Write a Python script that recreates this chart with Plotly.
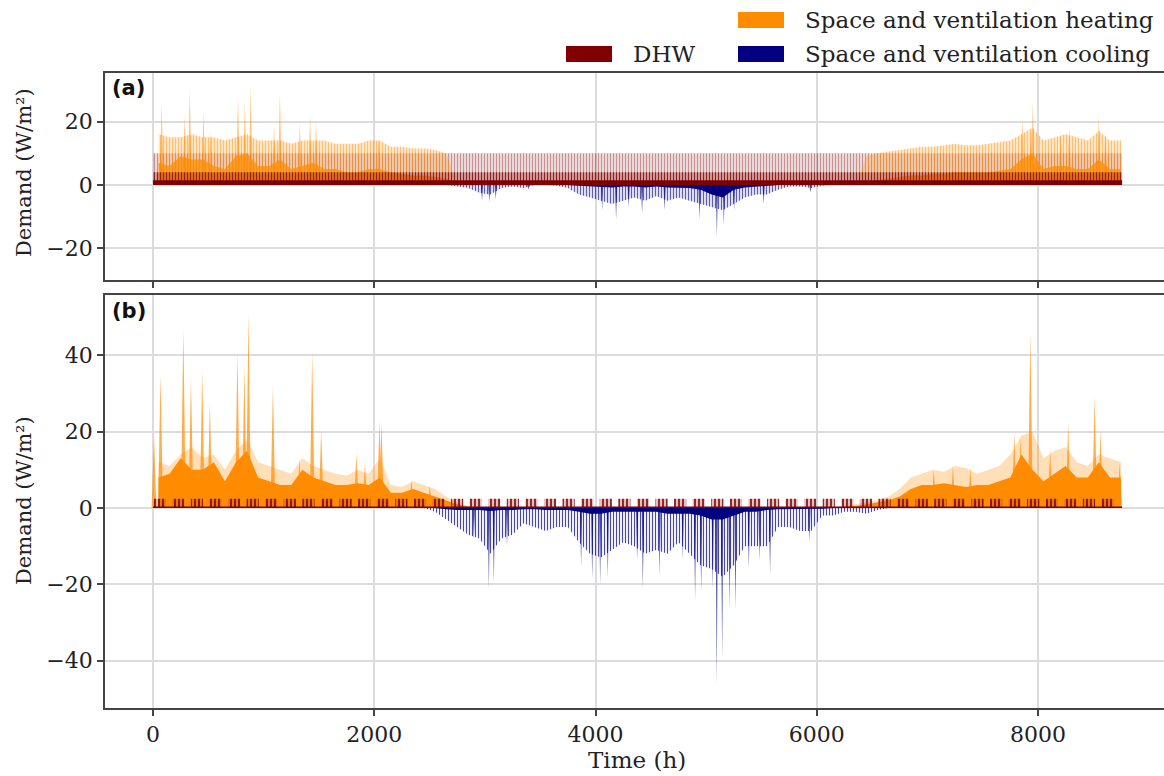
import numpy as np
import plotly.graph_objects as go

# hourly year, summarised in 100 h bins
bin_hours = np.arange(50, 8760, 100)          # 88 bin centres
year_span = [0, 8760]

# ---- panel (a) ----
heat_a_top = ([16, 15, 15, 16, 15, 15, 14, 15, 16, 14, 14, 14, 13, 14, 14, 14, 13, 13, 13, 14,
               14, 12, 12, 11.5, 11.5, 11, 10] + [0] * 37 +
              [9, 10, 10.5, 11, 11.5, 12, 12, 12.5, 13, 12.5, 12.5, 13, 13.5, 14, 16, 18, 14, 15,
               16, 15, 14, 17, 14, 14])
heat_a_mid = ([7, 6, 9, 8, 8, 6, 5, 9, 10, 6, 6, 8, 5, 6, 7, 5, 5, 4, 4, 5, 5, 4, 3.5, 3, 3, 2.5, 2]
              + [0] * 37 +
              [1, 1.5, 2, 2.5, 3, 3, 3.5, 3.5, 4, 4, 4, 4, 4.5, 5, 8, 10, 5, 6, 6, 5, 5, 8, 5, 5])
cool_a_top = ([0] * 27 +
              [-0.5, -1, -2.5, -3, -1, -0.5, -1, 0, 0, -0.3, -1, -3, -4, -5, -6, -5, -4, -5, -3.5,
               -5, -4, -5, -6, -7, -8, -6, -4, -3, -3, -1.5, -0.5, -0.5, -1, -0.3] + [0] * 27)
cool_a_mid = ([0] * 38 +
              [-0.3, -0.5, -0.5, -0.8, -0.5, -0.5, -0.8, -0.5, -0.8, -0.8, -1, -1.5, -3, -4, -1.5,
               -0.8, -0.5, -0.3] + [0] * 32)
heat_a_spike_h = [78, 286, 332, 457, 519, 768, 830, 883, 1094, 1147, 1327, 1420, 1473, 2040,
                  7859, 7937, 7953, 8204, 8283, 8550, 8610]
heat_a_spike_v = [26, 22, 30, 23, 17, 28, 26, 31, 19, 29, 19.5, 22, 20, 15.5,
                  21, 18.5, 26, 16.5, 18, 22, 17]
cool_a_spike_h = [2974, 3040, 3098, 3393, 4060, 4186, 4300, 4421, 4625, 4940, 5097, 5160, 5253,
                  5520, 5943]
cool_a_spike_v = [-5, -5.5, -4.5, -1.5, -8, -10.8, -7, -9.2, -8.1, -10.8, -16.5, -12.8, -8.1,
                  -6, -2.4]
dhw_a_levels = [1.5, 4.0, 10.0]    # solid band, dense daily lines, faint daily peaks

# ---- panel (b) ----
heat_b_top = ([12, 11, 14, 16, 13, 14, 10, 15, 18, 12, 11, 10, 9, 13, 11, 10, 9, 8.5, 10, 9, 13,
               6, 5.5, 7, 6, 5, 3, 1.5, 0.5] + [0] * 33 +
              [0.5, 1, 1.5, 2, 3, 5, 8, 9, 10, 9.5, 11, 10.5, 9, 10, 11, 14, 19, 20, 13, 15, 16,
               12, 11, 14, 13, 12])
heat_b_mid = ([8, 9, 13, 10, 10, 12, 7, 12, 15, 8, 7, 6, 6, 10, 8, 7, 6, 6, 6.5, 6, 8, 4, 4, 5,
               4, 3, 2, 1, 0.3] + [0] * 33 +
              [0.3, 0.5, 1, 1.5, 2, 3, 5, 6, 6, 6.5, 6, 5.5, 6, 6, 7, 8, 14, 10, 7, 9, 11, 8, 8,
               12, 8, 8])
cool_b_top = ([0] * 25 +
              [-1, -3, -5, -7, -8, -12, -8, -7, -4, -5, -6, -5, -5, -9, -12, -13, -11, -9, -10,
               -12, -11, -12, -9, -12, -15, -16, -18, -15, -10, -10, -10, -5, -5, -6, -6, -2, -2,
               -1, -1, -1.5, -0.5] + [0] * 22)
cool_b_mid = ([0] * 26 +
              [-0.3, -0.5, -0.5, -0.5, -0.8, -0.5, -0.5, -0.3, -0.3, -0.5, -0.5, -0.5, -1, -1.5,
               -1.5, -1, -1, -1, -1, -1, -1.5, -1.5, -1.5, -2, -3, -3, -2, -1, -1, -0.5, -0.3,
               -0.3, -0.3, -0.3, -0.2] + [0] * 27)
heat_b_spike_h = [9, 68, 274, 343, 445, 514, 763, 826, 863, 1084, 1324, 1439, 1520, 1838, 1916,
                  2047, 2065, 2336, 2502, 7058, 7231, 7388, 7786, 7843, 7931, 8110, 8273, 8512,
                  8565, 8738]
heat_b_spike_v = [19, 35, 47, 34, 36, 27.5, 41, 37, 51, 32, 13, 41, 20.5, 14.4, 11.8,
                  22.7, 22.3, 7.4, 5.7, 10, 11, 10.5, 19.7, 18.8, 46, 15.3, 22.3, 29.3,
                  20.5, 11.8]
cool_b_spike_h = [2900, 3036, 3081, 3200, 3870, 3970, 4042, 4111, 4376, 4428, 4580, 4789, 4900,
                  4955, 5060, 5096, 5145, 5211, 5265, 5386, 5482, 5578, 5934]
cool_b_spike_v = [-8.3, -21.3, -19.6, -10, -15.2, -18.7, -20, -18.3, -13.9, -21.3, -17.8, -13.5,
                  -24.3, -22, -21.3, -46.5, -39.6, -26.5, -26.5, -16.1, -13.9, -17.4, -8.7]
dhw_b_week_start = np.arange(6, 8650, 168)
dhw_b_peak = [2.4] * len(dhw_b_week_start)
dhw_b_base = [0.4]

ORANGE = '#FF8C00'
NAVY = '#000080'
MAROON = '#800000'
FONT = 'DejaVu Serif'

fig = go.Figure()


def area(x, y, color, ax, pattern=None):
    fig.add_trace(go.Scatter(x=x, y=y, mode='lines', line=dict(width=0), fill='tozeroy',
                             fillcolor=color, fillpattern=pattern, xaxis=ax[0], yaxis=ax[1],
                             showlegend=False, hoverinfo='skip'))


def polys(xs, ys, color, ax, pattern=None):
    fig.add_trace(go.Scatter(x=xs, y=ys, mode='lines', line=dict(width=0), fill='toself',
                             fillcolor=color, fillpattern=pattern, xaxis=ax[0], yaxis=ax[1],
                             showlegend=False, hoverinfo='skip'))


def spikes(hours, vals, color, half, ax):
    xs, ys = [], []
    for h, v in zip(hours, vals):
        xs += [h - half, h, h + half, None]
        ys += [0, v, 0, None]
    polys(xs, ys, color, ax)


A = ('x', 'y')
B = ('x2', 'y2')

# panel a
area(year_span, [dhw_a_levels[2]] * 2, 'rgba(128,0,0,0.14)', A,
     dict(shape='|', fgcolor='rgba(128,0,0,0.35)', bgcolor='rgba(128,0,0,0.12)', size=3, solidity=0.4))
area(bin_hours, heat_a_top, 'rgba(255,140,0,0.25)', A,
     dict(shape='|', fgcolor='rgba(255,140,0,0.45)', bgcolor='rgba(255,140,0,0.18)', size=3, solidity=0.4))
spikes(heat_a_spike_h, heat_a_spike_v, 'rgba(255,140,0,0.5)', 18, A)
area(bin_hours, heat_a_mid, 'rgba(255,140,0,0.75)', A)
area(year_span, [dhw_a_levels[1]] * 2, 'rgba(128,0,0,0.45)', A,
     dict(shape='|', fgcolor='rgba(128,0,0,0.7)', bgcolor='rgba(128,0,0,0.25)', size=3, solidity=0.4))
area(year_span, [dhw_a_levels[0]] * 2, MAROON, A)
area(bin_hours, cool_a_top, 'rgba(0,0,128,0.3)', A,
     dict(shape='|', fgcolor='rgba(0,0,128,0.6)', bgcolor='rgba(0,0,128,0.08)', size=3, solidity=0.4))
spikes(cool_a_spike_h, cool_a_spike_v, 'rgba(0,0,128,0.65)', 10, A)
area(bin_hours, cool_a_mid, NAVY, A)

# panel b
area(bin_hours, heat_b_top, 'rgba(255,140,0,0.28)', B)
spikes(heat_b_spike_h, heat_b_spike_v, 'rgba(255,140,0,0.7)', 22, B)
area(bin_hours, heat_b_mid, ORANGE, B)
area(bin_hours, cool_b_top, 'rgba(0,0,128,0.25)', B,
     dict(shape='|', fgcolor='rgba(0,0,128,0.7)', bgcolor='rgba(0,0,128,0.06)', size=3, solidity=0.35))
spikes(cool_b_spike_h, cool_b_spike_v, 'rgba(0,0,128,0.7)', 10, B)
area(bin_hours, cool_b_mid, NAVY, B)
wx, wy = [], []
for s, v in zip(dhw_b_week_start, dhw_b_peak):
    wx += [s, s, s + 110, s + 110, None]
    wy += [0, v, v, 0, None]
polys(wx, wy, 'rgba(150,40,40,0.45)', B,
      dict(shape='|', fgcolor=MAROON, bgcolor='rgba(170,70,70,0.35)', size=4, solidity=0.4))
area(year_span, dhw_b_base * 2, MAROON, B)

# layout
L, R, T, Bm = 105, 0, 73, 68
W, H = 1164, 776
pw, ph = W - L - R, H - T - Bm


def px(x, y):
    return (x - L) / pw, (H - Bm - y) / ph


xr = [-434, 9139]
axis_common = dict(showgrid=True, gridcolor='#dcdcdc', gridwidth=1.5, zeroline=False,
                   showline=True, linecolor='#444', linewidth=1.8, ticks='outside',
                   ticklen=6, tickwidth=1.5, tickcolor='#444',
                   tickfont=dict(family=FONT, size=22, color='#222'))
fig.update_layout(
    width=W, height=H, template='none', barmode='overlay', bargap=0,
    paper_bgcolor='white', plot_bgcolor='white',
    margin=dict(l=L, r=R, t=T, b=Bm),
    xaxis=dict(axis_common, domain=[0, 1], anchor='y', range=xr, mirror=True,
               showticklabels=False, tickvals=[0, 2000, 4000, 6000, 8000]),
    yaxis=dict(axis_common, domain=[px(0, 280)[1], 1], anchor='x', range=[-30, 35.3],
               tickvals=[-20, 0, 20]),
    xaxis2=dict(axis_common, domain=[0, 1], anchor='y2', range=xr, mirror=True,
                tickvals=[0, 2000, 4000, 6000, 8000]),
    yaxis2=dict(axis_common, domain=[0, px(0, 295)[1]], anchor='x2', range=[-52.4, 55.8],
                tickvals=[-40, -20, 0, 20, 40]),
)

ann = []
shapes = []
for lab, yy in [('(a)', 88), ('(b)', 311)]:
    x0, y0 = px(110, yy)
    ann.append(dict(x=x0, y=y0, xref='paper', yref='paper', text='<b>%s</b>' % lab, showarrow=False,
                    xanchor='left', yanchor='middle', font=dict(family='DejaVu Sans', size=21, color='#111')))
for yy in [173, 501]:
    x0, y0 = px(24, yy)
    ann.append(dict(x=x0, y=y0, xref='paper', yref='paper', text='Demand (W/m²)', textangle=-90,
                    showarrow=False, xanchor='center', yanchor='middle',
                    font=dict(family=FONT, size=21, color='#222')))
x0, y0 = px(637, 760)
ann.append(dict(x=x0, y=y0, xref='paper', yref='paper', text='Time (h)', showarrow=False,
                xanchor='center', yanchor='middle', font=dict(family=FONT, size=23, color='#222')))

legend_items = [('DHW', MAROON, 566, 54, 631),
                ('Space and ventilation heating', ORANGE, 738, 20, 803),
                ('Space and ventilation cooling', NAVY, 738, 54, 803)]
for text, col, rx, ry, tx in legend_items:
    a0, b0 = px(rx, ry - 8)
    a1, b1 = px(rx + 46, ry + 8)
    shapes.append(dict(type='rect', xref='paper', yref='paper', x0=a0, x1=a1, y0=b1, y1=b0,
                       fillcolor=col, line=dict(width=0)))
    tx0, ty0 = px(tx, ry)
    ann.append(dict(x=tx0, y=ty0, xref='paper', yref='paper', text=text, showarrow=False,
                    xanchor='left', yanchor='middle', font=dict(family=FONT, size=23, color='#222')))

fig.update_layout(annotations=ann, shapes=shapes)
fig.write_html("out.html", config={'displayModeBar': False},
               post_script="document.body.style.margin='0';")
